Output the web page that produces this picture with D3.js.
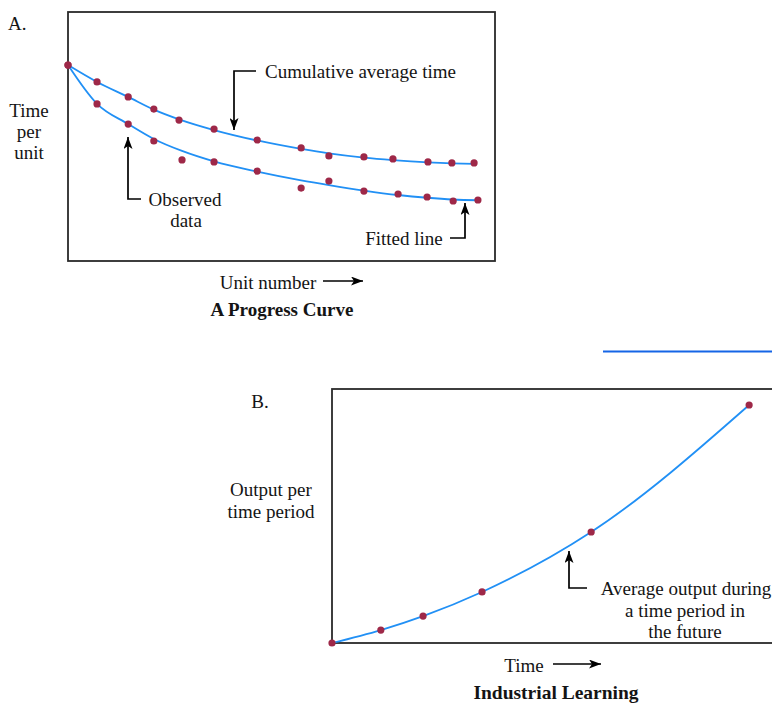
<!DOCTYPE html>
<html>
<head>
<meta charset="utf-8">
<script src="https://cdn.jsdelivr.net/npm/d3@7"></script>
<style>
  body { margin: 0; background: #fff; }
  svg text { font-family: "Liberation Serif", "Times New Roman", serif; fill: #141414; }
</style>
</head>
<body>
<svg id="chart" width="772" height="704"></svg>
<script>
// Panel A -- progress curve (unit number 0..100, time per unit 0..100)
var cumUnits   = [0, 6.8, 14.1, 20.1, 26.0, 34.2, 44.3, 54.6, 61.1, 69.3, 76.1, 84.3, 89.9, 95.1];
var cumPoints  = [78.7, 71.9, 65.9, 61.0, 56.6, 53.0, 48.6, 45.4, 42.2, 41.8, 41.0, 39.8, 39.4, 39.4];
var cumFitted  = [78.7, 71.9, 65.9, 60.8, 56.9, 52.6, 48.4, 45.0, 43.2, 41.5, 40.5, 39.6, 39.2, 39.0];
var obsUnits   = [0, 6.8, 14.1, 20.1, 26.7, 34.2, 44.3, 54.6, 61.1, 69.3, 77.3, 84.1, 90.2, 96.0];
var obsPoints  = [78.7, 63.1, 55.0, 48.2, 40.6, 39.8, 36.1, 29.3, 32.1, 28.1, 26.9, 25.7, 24.1, 24.5];
var obsFitted  = [78.7, 63.1, 55.0, 49.0, 44.2, 40.0, 35.9, 32.4, 30.5, 28.3, 26.5, 25.4, 24.7, 24.4];

// Panel B -- industrial learning (time 0..100, output 0..100)
var timeUnits   = [0, 11.1, 20.7, 34.1, 58.9, 94.8];
var outputVals  = [0, 5.1, 10.6, 20.1, 43.7, 93.7];

var svg = d3.select("#chart");
var lineColor = "#2190f5", dotColor = "#9e2848";

svg.append("defs").append("marker")
  .attr("id", "head").attr("viewBox", "0 0 12 9")
  .attr("refX", 12).attr("refY", 4.5)
  .attr("markerWidth", 12).attr("markerHeight", 9)
  .attr("markerUnits", "userSpaceOnUse")
  .attr("orient", "auto")
  .append("path").attr("d", "M0,0 L12,4.5 L0,9 L3,4.5 Z").attr("fill", "#000");

var elbow = function (pts) {
  svg.append("path")
    .attr("d", d3.line()(pts))
    .attr("fill", "none").attr("stroke", "#000").attr("stroke-width", 1.7)
    .attr("marker-end", "url(#head)");
};

var label = function (x, y, txt, opts) {
  opts = opts || {};
  return svg.append("text")
    .attr("x", x).attr("y", y).attr("dy", "0.35em")
    .attr("text-anchor", opts.anchor || "middle")
    .style("font-size", (opts.size || 19) + "px")
    .style("font-weight", opts.bold ? "bold" : null)
    .text(txt);
};

///////////////////////////////////////////////////////////////////////////////
// Panel A

var xA = d3.scaleLinear().domain([0, 100]).range([68, 495]);
var yA = d3.scaleLinear().domain([0, 100]).range([261, 12]);

svg.append("rect").attr("x", 68).attr("y", 12).attr("width", 427).attr("height", 249)
  .attr("fill", "none").attr("stroke", "#2a2a2a").attr("stroke-width", 1.8);

var lineA = d3.line().curve(d3.curveMonotoneX)
  .x(function (d) { return xA(d[0]); }).y(function (d) { return yA(d[1]); });

svg.append("path").datum(d3.zip(cumUnits, cumFitted)).attr("d", lineA)
  .attr("fill", "none").attr("stroke", lineColor).attr("stroke-width", 1.8);
svg.append("path").datum(d3.zip(obsUnits, obsFitted)).attr("d", lineA)
  .attr("fill", "none").attr("stroke", lineColor).attr("stroke-width", 1.8);

svg.append("g").selectAll("circle").data(d3.zip(cumUnits, cumPoints).concat(d3.zip(obsUnits, obsPoints)))
  .join("circle")
  .attr("cx", function (d) { return xA(d[0]); })
  .attr("cy", function (d) { return yA(d[1]); })
  .attr("r", 3.6).attr("fill", dotColor);

elbow([[256, 71], [234, 71], [234, 130]]);
label(265, 71, "Cumulative average time", {anchor: "start"});
elbow([[141, 199], [128, 199], [128, 137]]);
label(185, 199, "Observed");
label(186, 220, "data");
elbow([[450, 238], [465, 238], [465, 203]]);
label(404, 238, "Fitted line");

label(8, 23, "A.", {anchor: "start"});
label(29, 110, "Time");
label(29, 131, "per");
label(29, 152, "unit");

label(268, 282, "Unit number");
elbow([[323, 281], [363, 281]]);
label(282, 309, "A Progress Curve", {bold: true});

svg.append("line").attr("x1", 603).attr("x2", 772).attr("y1", 351.5).attr("y2", 351.5)
  .attr("stroke", "#1565e6").attr("stroke-width", 2);

///////////////////////////////////////////////////////////////////////////////
// Panel B

var xB = d3.scaleLinear().domain([0, 100]).range([332, 772]);
var yB = d3.scaleLinear().domain([0, 100]).range([643, 389]);

svg.append("rect").attr("x", 332).attr("y", 389).attr("width", 450).attr("height", 254)
  .attr("fill", "none").attr("stroke", "#2a2a2a").attr("stroke-width", 1.8);

var lineB = d3.line().curve(d3.curveMonotoneX)
  .x(function (d) { return xB(d[0]); }).y(function (d) { return yB(d[1]); });

svg.append("path").datum(d3.zip(timeUnits, outputVals)).attr("d", lineB)
  .attr("fill", "none").attr("stroke", lineColor).attr("stroke-width", 1.8);

svg.append("g").selectAll("circle").data(d3.zip(timeUnits, outputVals))
  .join("circle")
  .attr("cx", function (d) { return xB(d[0]); })
  .attr("cy", function (d) { return yB(d[1]); })
  .attr("r", 3.6).attr("fill", dotColor);

elbow([[587, 588], [569, 588], [569, 551]]);
label(686, 588, "Average output during");
label(685, 610, "a time period in");
label(685, 631, "the future");

label(260, 401, "B.");
label(271, 489, "Output per");
label(271, 511, "time period");

label(524, 665, "Time");
elbow([[553, 664], [601, 664]]);
label(556, 692, "Industrial Learning", {bold: true, size: 19.5});
</script>
</body>
</html>
